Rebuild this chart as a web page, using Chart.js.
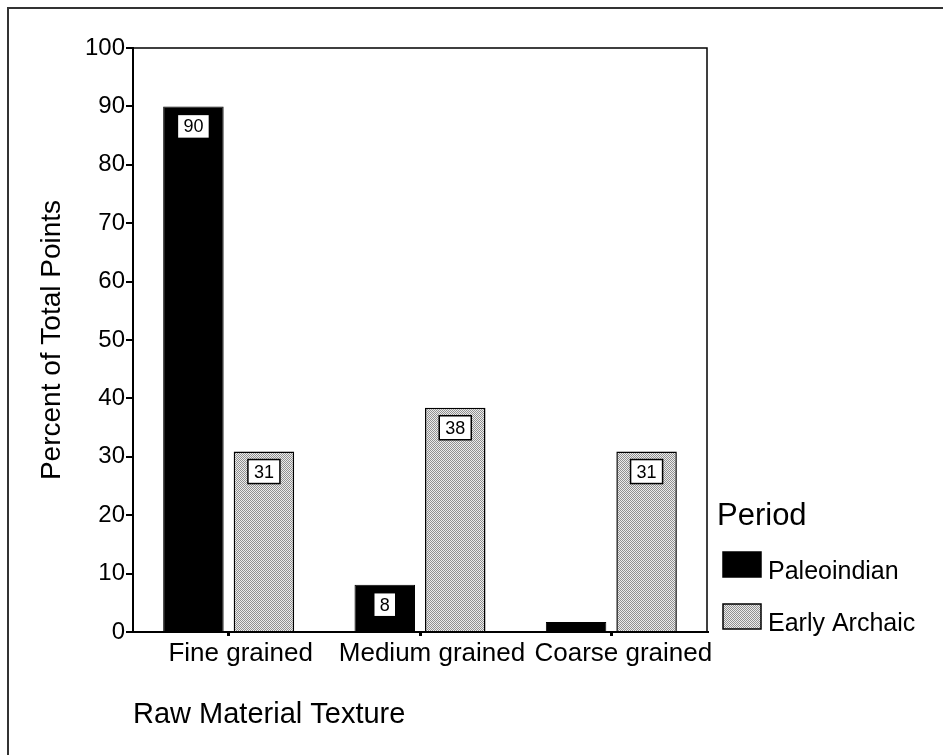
<!DOCTYPE html>
<html>
<head>
<meta charset="utf-8">
<title>Raw Material Texture</title>
<script src="https://cdn.jsdelivr.net/npm/chart.js@4.4.0/dist/chart.umd.min.js"></script>
<style>
    html, body { margin: 0; padding: 0; background: #fff; }
</style>
</head>
<body>
<canvas id="canvas_textura" width="943" height="755"></canvas>
<script>
'use strict';
var categorias   = ['Fine grained', 'Medium grained', 'Coarse grained'];
var paleoindian  = [90.0, 8.1, 1.7];
var earlyArchaic = [30.9, 38.4, 30.9];
var marcasY      = [0, 10, 20, 30, 40, 50, 60, 70, 80, 90, 100];

var fuente = '"Liberation Sans", Arial, sans-serif';

// trama punteada gris para Early Archaic
function crearTrama() {
    var c   = document.createElement('canvas');
    c.width = 2; c.height = 2;
    var cx  = c.getContext('2d');
    cx.fillStyle = '#ececec';
    cx.fillRect(0, 0, 2, 2);
    cx.fillStyle = '#909090';
    cx.fillRect(0, 0, 1, 1);
    cx.fillRect(1, 1, 1, 1);
    return cx.createPattern(c, 'repeat');
}

var extras = {
    id : 'extras',
    beforeDraw : function(chart) {
        var ctx = chart.ctx;
        ctx.save();
        ctx.strokeStyle = '#333';
        ctx.lineWidth   = 2;
        ctx.beginPath();
        ctx.moveTo(8, 760);
        ctx.lineTo(8, 8);
        ctx.lineTo(950, 8);
        ctx.stroke();
        ctx.restore();
    },
    afterDatasetsDraw : function(chart) {
        var ctx  = chart.ctx,
            area = chart.chartArea;
        ctx.save();
        // caja del area del grafico
        ctx.strokeStyle = '#000';
        ctx.lineWidth   = 1.5;
        ctx.strokeRect(area.left, area.top, area.right - area.left, area.bottom - area.top);

        // etiquetas de valor
        ctx.font         = '18px ' + fuente;
        ctx.textAlign    = 'center';
        ctx.textBaseline = 'middle';
        chart.data.datasets.forEach(function(ds, i) {
            var meta = chart.getDatasetMeta(i);
            meta.data.forEach(function(bar, j) {
                var v = ds.data[j];
                if (v < 5) return;
                var txt = String(Math.round(v)),
                    w   = ctx.measureText(txt).width + 12,
                    h   = 24,
                    x   = bar.x - w / 2,
                    y   = bar.y + 8;
                ctx.fillStyle = '#fff';
                ctx.fillRect(x, y, w, h);
                ctx.strokeStyle = '#000';
                ctx.lineWidth   = 1.5;
                ctx.strokeRect(x, y, w, h);
                ctx.fillStyle = '#000';
                ctx.fillText(txt, bar.x, y + h / 2 + 1);
            });
        });

        // leyenda
        ctx.textAlign    = 'left';
        ctx.textBaseline = 'alphabetic';
        ctx.fillStyle    = '#000';
        ctx.font         = '31px ' + fuente;
        ctx.fillText('Period', 717, 525);
        ctx.font = '25px ' + fuente;
        chart.data.datasets.forEach(function(ds, i) {
            var by = 552 + i * 52;
            ctx.fillStyle = ds.backgroundColor;
            ctx.fillRect(723, by, 38, 25);
            ctx.strokeStyle = '#000';
            ctx.lineWidth   = 1.5;
            ctx.strokeRect(723, by, 38, 25);
            ctx.fillStyle = '#000';
            ctx.fillText(ds.label, 768, by + 27);
        });
        ctx.restore();
    }
};

var datosTextura = {
    type : 'bar',

    data : {
        labels   : categorias,
        datasets : [{
            label           : 'Paleoindian',
            data            : paleoindian,
            backgroundColor : '#000000',
            borderColor     : '#000000',
            borderWidth     : 1,
        }, {
            label           : 'Early Archaic',
            data            : earlyArchaic,
            backgroundColor : crearTrama(),
            borderColor     : '#000000',
            borderWidth     : 1.5,
        }]
    },

    options : {
        responsive         : false,
        animation          : false,
        devicePixelRatio   : 1,
        categoryPercentage : 0.737,
        barPercentage      : 0.858,
        layout : {
            padding : { left : 20, top : 48, right : 236, bottom : 5 }
        },
        plugins : {
            legend  : { display : false },
            tooltip : { enabled : false }
        },
        scales : {
            x : {
                afterFit : function(s) { s.height = 118; },
                border   : { color : '#000', width : 2 },
                grid     : { drawOnChartArea : false, offset : false, tickLength : 4, color : '#000', lineWidth : 3 },
                ticks    : {
                    color       : '#000',
                    padding     : 2,
                    labelOffset : 12,
                    maxRotation : 0,
                    autoSkip    : false,
                    font        : { family : fuente, size : 26 }
                },
                title : {
                    display : true,
                    text    : 'Raw Material Texture',
                    align   : 'start',
                    color   : '#000',
                    font    : { family : fuente, size : 29 },
                    padding : { top : 0, bottom : 18 }
                }
            },
            y : {
                min      : 0,
                max      : 100,
                afterFit : function(s) { s.width = 113; },
                afterBuildTicks : function(s) {
                    s.ticks = marcasY.map(function(v) { return { value : v }; });
                },
                border : { color : '#000', width : 2 },
                grid   : { drawOnChartArea : false, tickLength : 7, color : '#000', lineWidth : 2 },
                ticks  : {
                    color   : '#000',
                    padding : 1,
                    font    : { family : fuente, size : 24 }
                },
                title : {
                    display : true,
                    text    : 'Percent of Total Points',
                    color   : '#000',
                    font    : { family : fuente, size : 28 },
                    padding : { top : 15, bottom : 0 }
                }
            }
        }
    },
    plugins : [extras]
};

var canvasTx = document.getElementById('canvas_textura').getContext('2d');
window.barras = new Chart(canvasTx, datosTextura);
</script>
</body>
</html>
